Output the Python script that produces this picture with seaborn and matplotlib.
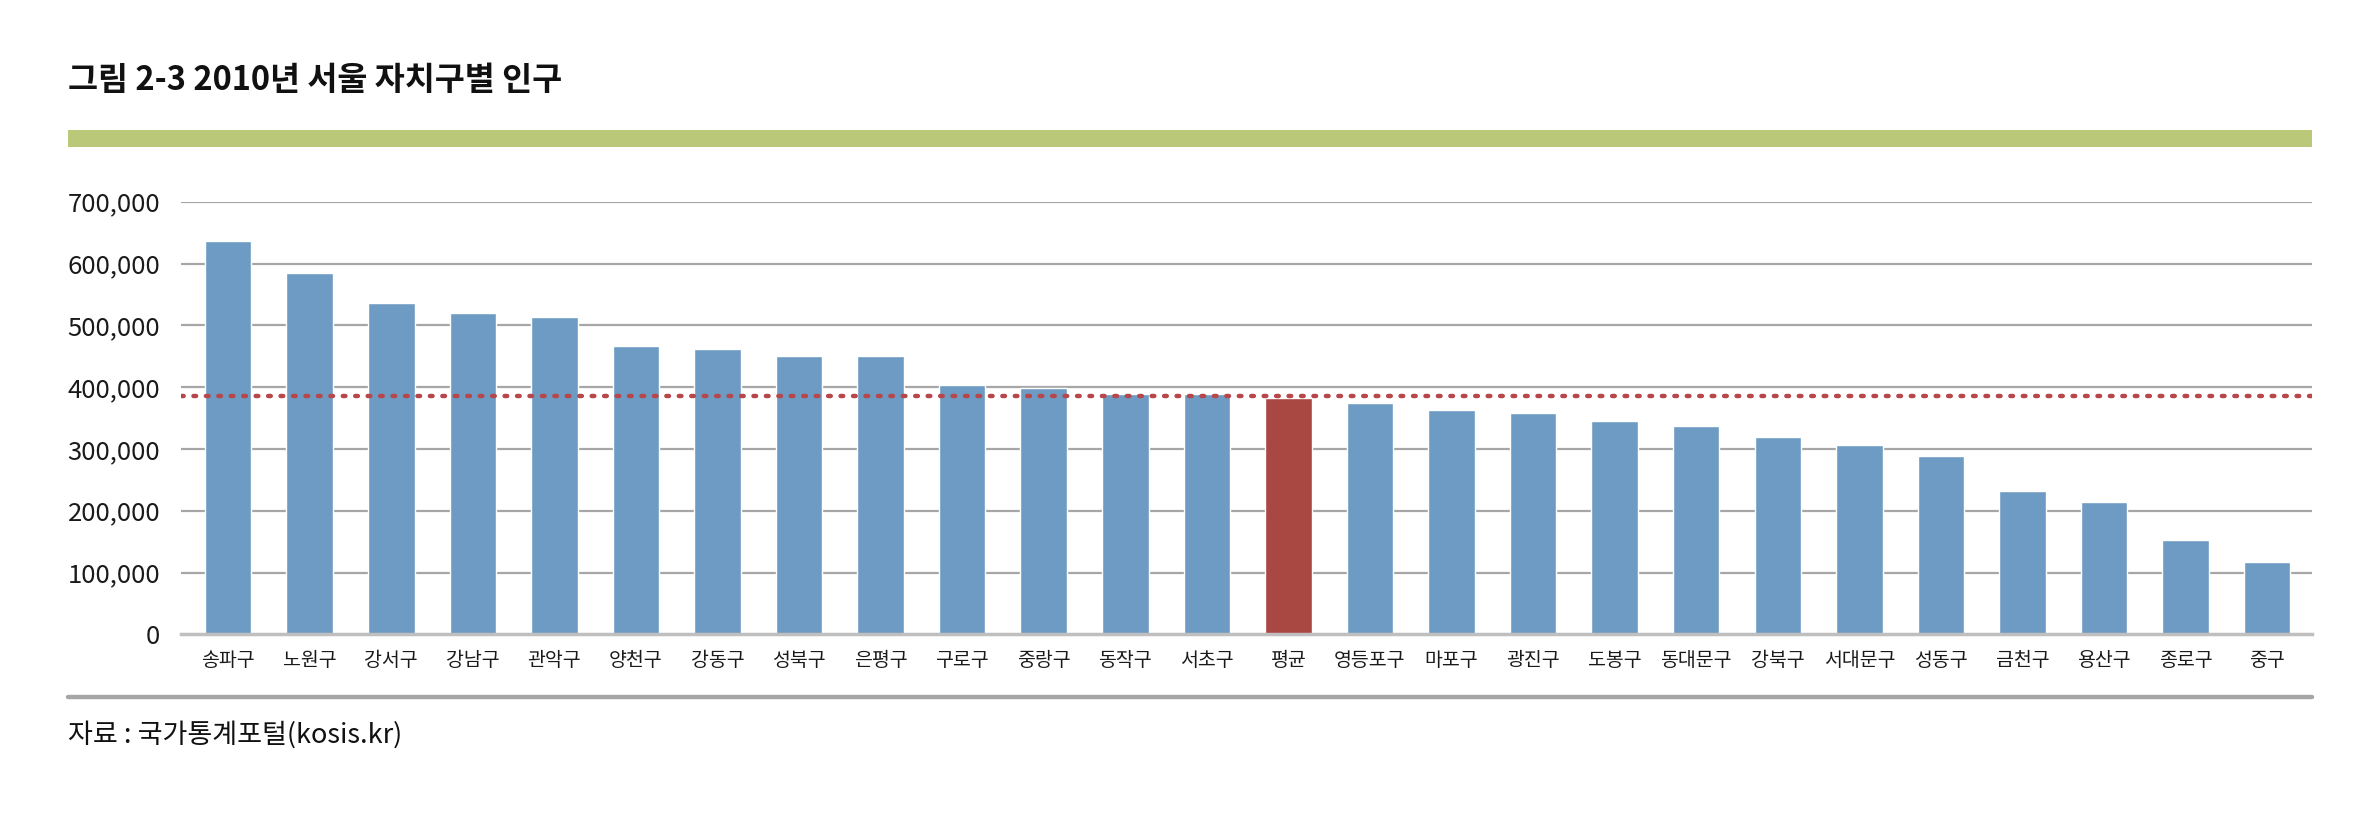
import matplotlib
matplotlib.use("Agg")
import matplotlib.pyplot as plt
import seaborn as sns
import pandas as pd
from matplotlib.ticker import FuncFormatter

districts = ["송파구", "노원구", "강서구", "강남구", "관악구", "양천구", "강동구", "성북구",
             "은평구", "구로구", "중랑구", "동작구", "서초구", "평균", "영등포구", "마포구",
             "광진구", "도봉구", "동대문구", "강북구", "서대문구", "성동구", "금천구",
             "용산구", "종로구", "중구"]
population = [636400, 585100, 535600, 520400, 512900, 467000, 461200, 449800,
              449800, 403900, 398000, 388800, 388800, 382000, 374000, 363200,
              357800, 345400, 336800, 319500, 306100, 288300, 231800,
              214600, 152200, 117600]
average_line = 385600
yticks = [0, 100000, 200000, 300000, 400000, 500000, 600000, 700000]

title = "그림 2-3 2010년 서울 자치구별 인구"
source = "자료 : 국가통계포털(kosis.kr)"

sns.set_theme(style="white")
plt.rcParams['font.family'] = ['Noto Sans CJK KR', 'DejaVu Sans']

blue = "#6D9BC3"
red = "#A94843"
colors = {d: (red if d == "평균" else blue) for d in districts}

df = pd.DataFrame({"district": districts, "population": population})

fig = plt.figure(figsize=(23.62, 8.27), dpi=100)
ax = fig.add_axes([181 / 2362, 0.2330, (2312 - 181) / 2362, 0.5231])

for y in yticks[1:]:
    ax.axhline(y, color="#A6A6A6", lw=1.6, zorder=0)

sns.barplot(data=df, x="district", y="population", hue="district", palette=colors,
            legend=False, width=0.57, ax=ax, zorder=2, saturation=1)

ax.axhline(average_line, color="#B7474A", lw=3.2, ls=(0, (0.6, 2.2)), zorder=3,
           dash_capstyle="round")

ax.set_ylim(0, 700000)
ax.set_xlim(-0.578, len(districts) - 0.5 + 0.05)
ax.set_yticks(yticks)
ax.yaxis.set_major_formatter(FuncFormatter(lambda v, p: f"{int(v):,}"))
ax.set_xlabel("")
ax.set_ylabel("")
for s in ["top", "right", "left"]:
    ax.spines[s].set_visible(False)
ax.spines["bottom"].set_color("#BFBFBF")
ax.spines["bottom"].set_linewidth(2.5)
ax.tick_params(axis="y", length=0, pad=15, labelsize=18.5, colors="#1a1a1a")
ax.tick_params(axis="x", length=0, pad=11, labelsize=14, colors="#1a1a1a")

fig.text(0.0288, 0.903, title, fontsize=23.5, fontweight="bold", va="center", ha="left",
         color="#111111")

fig.patches.append(plt.Rectangle((0.0288, 0.8222), (2312 / 2362) - 0.0288, 0.0206,
                                 transform=fig.transFigure,
                                 facecolor="#BAC87A", edgecolor="none"))
fig.lines.append(plt.Line2D([0.0288, 2312 / 2362], [1 - 697 / 827, 1 - 697 / 827],
                            transform=fig.transFigure, color="#A6A6A6", lw=3.2))

fig.text(0.0288, 1 - 735 / 827, source, fontsize=19.5, va="center", ha="left",
         color="#111111")

fig.savefig("out.png", dpi=100)
